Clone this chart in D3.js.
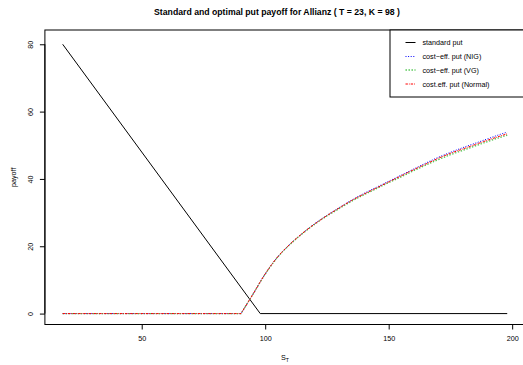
<!DOCTYPE html>
<html>
<head>
<meta charset="utf-8">
<script src="https://d3js.org/d3.v7.min.js"></script>
<style>
  html, body { margin: 0; padding: 0; background: #fff; }
  svg { display: block; font-family: "Liberation Sans", Arial, sans-serif; }
</style>
</head>
<body>
<svg id="chart" width="523" height="365"></svg>
<script>
// Terminal stock price grid and payoffs
const stdS = [18, 98, 198];
const stdPayoff = [80, 0, 0];

const ceS = [18, 90.2, 95, 100, 105, 110, 115, 120, 125, 130, 135, 140, 145, 150, 155, 160, 165, 170, 175, 180, 185, 190, 195, 198];
const ceNIG = [0, 0, 5.7, 11.8, 16.8, 20.6, 23.8, 26.7, 29.2, 31.5, 33.7, 35.7, 37.5, 39.3, 41.1, 42.9, 44.7, 46.4, 47.9, 49.3, 50.6, 51.9, 53.2, 53.9];
const ceVG = [0, 0, 5.7, 11.7, 16.7, 20.5, 23.7, 26.5, 29.0, 31.2, 33.4, 35.3, 37.1, 38.9, 40.6, 42.4, 44.1, 45.7, 47.2, 48.5, 49.8, 51.1, 52.3, 53.0];
const ceNormal = [0, 0, 5.7, 11.8, 16.8, 20.6, 23.8, 26.6, 29.1, 31.4, 33.6, 35.5, 37.3, 39.1, 40.9, 42.7, 44.4, 46.1, 47.6, 48.9, 50.2, 51.5, 52.7, 53.4];

const xTicks = [50, 100, 150, 200];
const yTicks = [0, 20, 40, 60, 80];

const legendLabels = ["standard put", "cost\u2212eff. put (NIG)", "cost\u2212eff. put (VG)", "cost.eff. put (Normal)"];

const svg = d3.select("#chart");

const x = d3.scaleLinear().domain([10.8, 205.2]).range([44.9, 525]);
const y = d3.scaleLinear().domain([-3.24, 84.24]).range([324.5, 30]);

const [x0, x1] = x.range();
const [yb, yt] = y.range();

// series styles
const styles = [
  { color: "#000", width: 1, dash: null },
  { color: "#0000ff", width: 1, dash: "1,1.6" },
  { color: "#4cc44c", width: 1.3, dash: "1.4,1.6" },
  { color: "#ff0000", width: 1, dash: "2.4,1,0.8,1" }
];

const straight = d3.line().x(d => x(d[0])).y(d => y(d[1]));
const smooth = d3.line().x(d => x(d[0])).y(d => y(d[1])).curve(d3.curveMonotoneX);

// flat part drawn straight, rising part smoothed from the kink onward
function payoffPath(pts) {
  const flat = straight(pts.slice(0, 2));
  const rise = smooth(pts.slice(1)).replace(/^M/, "L");
  return flat + rise;
}

const series = [
  d3.zip(stdS, stdPayoff),
  d3.zip(ceS, ceNIG),
  d3.zip(ceS, ceVG),
  d3.zip(ceS, ceNormal)
];

const plot = svg.append("g");
series.forEach((pts, i) => {
  const st = styles[i];
  plot.append("path")
    .attr("d", i === 0 ? straight(pts) : payoffPath(pts))
    .attr("fill", "none")
    .attr("stroke", st.color)
    .attr("stroke-width", st.width)
    .attr("stroke-dasharray", st.dash);
});

// plot frame
svg.append("rect")
  .attr("x", x0).attr("y", yt)
  .attr("width", x1 - x0).attr("height", yb - yt)
  .attr("fill", "none").attr("stroke", "#000").attr("stroke-width", 1);

// axes
const xAxis = d3.axisBottom(x).tickValues(xTicks).tickSize(5).tickPadding(6);
const gx = svg.append("g").attr("transform", `translate(0,${yb})`).call(xAxis);
gx.select(".domain").attr("d", `M${x(50)},0H${x(200)}`);
gx.selectAll("text").attr("font-size", 7.2).attr("fill", "#000").attr("font-family", "Liberation Sans, Arial, sans-serif");

const yAxis = d3.axisLeft(y).tickValues(yTicks).tickSize(5).tickFormat(d3.format("d"));
const gy = svg.append("g").attr("transform", `translate(${x0},0)`).call(yAxis);
gy.select(".domain").attr("d", `M0,${y(0)}V${y(80)}`);
gy.selectAll(".tick text")
  .attr("x", null).attr("y", null)
  .attr("text-anchor", "middle")
  .attr("transform", "translate(-14,0) rotate(-90)")
  .attr("dy", "0.35em")
  .attr("font-size", 7.2).attr("fill", "#000")
  .attr("font-family", "Liberation Sans, Arial, sans-serif");

// title
svg.append("text")
  .attr("x", 277).attr("y", 15)
  .attr("text-anchor", "middle")
  .attr("font-weight", "bold")
  .attr("font-size", 8.7)
  .text("Standard and optimal put payoff for Allianz ( T = 23, K = 98 )");

// axis titles
const xl = svg.append("text")
  .attr("x", (x0 + x1) / 2).attr("y", 360)
  .attr("text-anchor", "middle")
  .attr("font-size", 7.2);
xl.append("tspan").text("S");
xl.append("tspan").attr("font-size", 5.2).attr("dy", 2).text("T");

svg.append("text")
  .attr("transform", `translate(16,${(yt + yb) / 2}) rotate(-90)`)
  .attr("text-anchor", "middle")
  .attr("font-size", 7.2)
  .text("payoff");

// legend
const lg = svg.append("g");
lg.append("rect")
  .attr("x", 390).attr("y", yt)
  .attr("width", x1 - 390).attr("height", 97 - yt)
  .attr("fill", "#fff").attr("stroke", "#000").attr("stroke-width", 1);
const rowY = [42.5, 56.5, 70, 84];
legendLabels.forEach((lab, i) => {
  const st = styles[i];
  lg.append("line")
    .attr("x1", 405.5).attr("x2", 415.5)
    .attr("y1", rowY[i]).attr("y2", rowY[i])
    .attr("stroke", st.color)
    .attr("stroke-width", st.width)
    .attr("stroke-dasharray", st.dash);
  lg.append("text")
    .attr("x", 422.5).attr("y", rowY[i])
    .attr("dy", "0.35em")
    .attr("font-size", 7.2)
    .attr("fill", "#000")
    .text(lab);
});
</script>
</body>
</html>
